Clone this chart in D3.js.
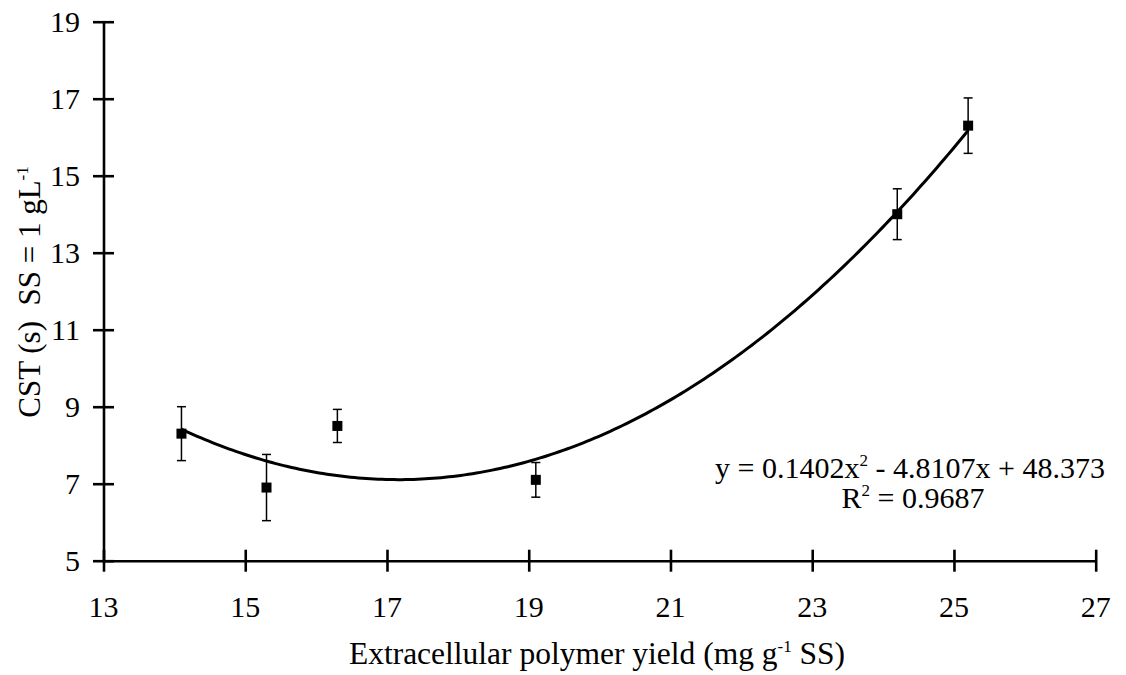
<!DOCTYPE html>
<html><head><meta charset="utf-8">
<script src="https://cdn.jsdelivr.net/npm/d3@7"></script>
<style>body{margin:0;background:#fff} text{font-family:"Liberation Serif","Times New Roman",serif}</style>
</head><body><svg id="c" width="1126" height="675"></svg>
<script>
const xVals = [14.1, 15.3, 16.3, 19.1, 24.2, 25.2];
const yVals = [8.3, 6.9, 8.5, 7.1, 14.0, 16.3];
const yErr = [0.70, 0.86, 0.43, 0.45, 0.66, 0.72];
const xTicks = [13, 15, 17, 19, 21, 23, 25, 27];
const yTicks = [5, 7, 9, 11, 13, 15, 17, 19];
const fitCoef = [0.1402, -4.8107, 48.373];
const fitR2 = "0.9687";

const FS = 30, SS = 17, SUP = 12;
const svg = d3.select("#c");
const x = d3.scaleLinear().domain([13, 27]).range([103.5, 1095.7]);
const y = d3.scaleLinear().domain([5, 19]).range([560.7, 21.7]);

// axes
const xa = svg.append("g").attr("transform", `translate(0,${y(5)})`)
  .call(d3.axisBottom(x).tickValues(xTicks).tickSize(0).tickPadding(0).tickFormat(""));
const ya = svg.append("g").attr("transform", `translate(${x(13)},0)`)
  .call(d3.axisLeft(y).tickValues(yTicks).tickSize(0).tickFormat(""));
[xa, ya].forEach(g => g.select(".domain").attr("stroke", "#000").attr("stroke-width", 2.6));
xa.selectAll(".tick line").attr("y1", -11).attr("y2", 11).attr("stroke", "#000").attr("stroke-width", 2.6);
ya.selectAll(".tick line").attr("x1", -10.5).attr("x2", 10.5).attr("stroke", "#000").attr("stroke-width", 2.6);

svg.append("g").selectAll("text").data(xTicks).join("text")
  .attr("x", d => x(d)).attr("y", 617).attr("text-anchor", "middle")
  .attr("font-size", FS).text(d => d);
svg.append("g").selectAll("text").data(yTicks).join("text")
  .attr("x", 80).attr("y", d => y(d) + 10.5).attr("text-anchor", "end")
  .attr("font-size", FS).text(d => d);

// titles
const xt = svg.append("text").attr("x", 597).attr("y", 664).attr("text-anchor", "middle").attr("font-size", 31.5);
xt.append("tspan").text("Extracellular polymer yield (mg g");
xt.append("tspan").attr("dy", -SUP).attr("font-size", SS).text("-1");
xt.append("tspan").attr("dy", SUP).text(" SS)");

const yt = svg.append("text").attr("transform", "translate(40,292) rotate(-90)").attr("text-anchor", "middle")
  .attr("font-size", 31).style("white-space", "pre");
yt.append("tspan").text("CST (s)  SS = 1 gL");
yt.append("tspan").attr("dy", -SUP).attr("font-size", SS).text("-1");

// fit curve
const xs = d3.range(0, 201).map(i => xVals[0] + (xVals[xVals.length-1] - xVals[0]) * i / 200);
const f = v => fitCoef[0]*v*v + fitCoef[1]*v + fitCoef[2];
svg.append("path").datum(xs)
  .attr("d", d3.line().x(d => x(d)).y(d => y(f(d))))
  .attr("fill", "none").attr("stroke", "#000").attr("stroke-width", 3);

// error bars
const pts = xVals.map((v, i) => ({x: v, y: yVals[i], e: yErr[i]}));
const eb = svg.append("g").attr("stroke", "#000").attr("stroke-width", 1.5);
pts.forEach(p => {
  eb.append("line").attr("x1", x(p.x)).attr("x2", x(p.x)).attr("y1", y(p.y + p.e)).attr("y2", y(p.y - p.e));
  eb.append("line").attr("x1", x(p.x) - 4.5).attr("x2", x(p.x) + 4.5).attr("y1", y(p.y + p.e)).attr("y2", y(p.y + p.e));
  eb.append("line").attr("x1", x(p.x) - 4.5).attr("x2", x(p.x) + 4.5).attr("y1", y(p.y - p.e)).attr("y2", y(p.y - p.e));
});
svg.append("g").selectAll("rect").data(pts).join("rect")
  .attr("x", d => x(d.x) - 5).attr("y", d => y(d.y) - 5).attr("width", 10).attr("height", 10).attr("fill", "#000");

// equation
const eq = svg.append("text").attr("x", 910).attr("y", 478).attr("text-anchor", "middle").attr("font-size", FS);
eq.append("tspan").text(`y = ${fitCoef[0]}x`);
eq.append("tspan").attr("dy", -SUP).attr("font-size", SS).text("2");
eq.append("tspan").attr("dy", SUP).text(` - ${Math.abs(fitCoef[1])}x + ${fitCoef[2]}`);
const r2 = svg.append("text").attr("x", 913).attr("y", 508).attr("text-anchor", "middle").attr("font-size", FS);
r2.append("tspan").text("R");
r2.append("tspan").attr("dy", -SUP).attr("font-size", SS).text("2");
r2.append("tspan").attr("dy", SUP).text(` = ${fitR2}`);
</script></body></html>
